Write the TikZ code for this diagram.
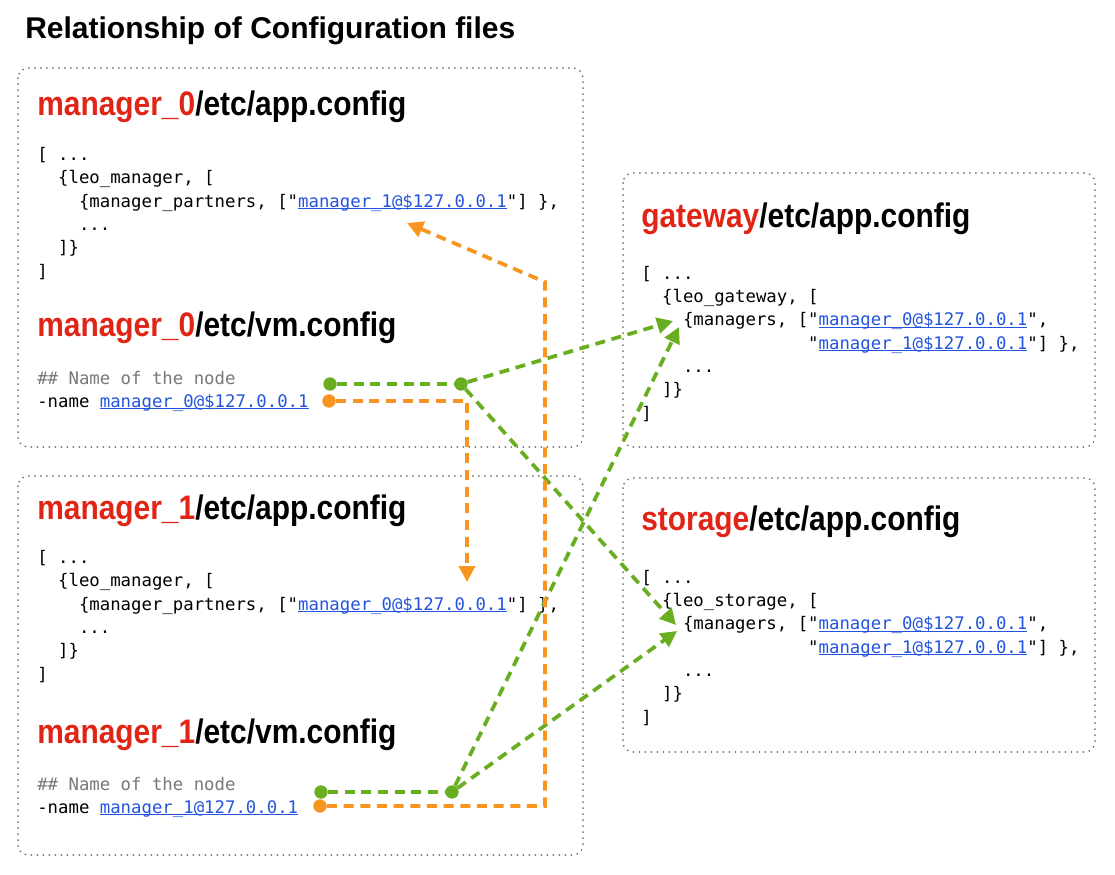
\documentclass[tikz,border=0pt]{standalone}
\usepackage{graphicx}
\usepackage{fontspec}
\setmainfont{Liberation Sans}
\setmonofont{DejaVu Sans Mono}
\usepackage{tikz}
\usetikzlibrary{arrows.meta}
\usetikzlibrary{positioning}
\definecolor{hdred}{RGB}{224,36,22}
\definecolor{linkgreen}{RGB}{104,174,32}
\definecolor{linkorange}{RGB}{248,148,32}
\definecolor{urlblue}{RGB}{36,84,222}
\definecolor{boxgrey}{RGB}{115,115,115}
\definecolor{cmtgrey}{RGB}{120,120,120}
\newcommand{\hdr}[2]{\scalebox{0.88}[1]{\textcolor{hdred}{#1}/etc/#2}}
\newcommand{\lnk}[1]{\textcolor{urlblue}{\setbox0\hbox{#1}\rlap{\rule[-1.6pt]{\wd0}{0.7pt}}\box0}}
\newcommand{\codesize}{\ttfamily\fontsize{13pt}{17.5pt}\selectfont}

\begin{document}
\begin{tikzpicture}[x=0.75pt, y=-0.75pt,
    title/.style={font=\bfseries\fontsize{22.5pt}{26pt}\selectfont, anchor=base west, inner sep=0pt},
    header/.style={font=\bfseries\fontsize{25.5pt}{30pt}\selectfont, anchor=base west, inner sep=0pt},
    code/.style={font=\codesize, align=left, anchor=base west, inner sep=0pt},
    cfgbox/.style={draw=boxgrey, line width=1.5pt, line cap=round, dash pattern=on 0pt off 4.5pt, rounded corners=7.5pt},
    dot/.style={circle, inner sep=0pt, minimum size=10pt},
    glink/.style={linkgreen, line width=2.8pt, dash pattern=on 7.5pt off 5pt},
    olink/.style={linkorange, line width=2.8pt, dash pattern=on 7.5pt off 5pt},
    tip/.style={-{Triangle[length=12pt, width=12pt]}}]

    \useasboundingbox (0,0) rectangle (1115,875);

    \node[title] (title) at (25,38) {Relationship of Configuration files};

    % dotted frames
    \draw[cfgbox] (18,68) rectangle (583,447);
    \draw[cfgbox] (18,476) rectangle (583,855);
    \draw[cfgbox] (623,173) rectangle (1095,447);
    \draw[cfgbox] (623,478) rectangle (1095,752);

    % manager_0 (code blocks sit on their last line)
    \node[header] (m0app) at (37,115) {\hdr{manager\_0}{app.config}};
    \node[code] (m0appcode) at (37,277) {[ ...\\
        \phantom{xx}\{leo\_manager, [\\
        \phantom{xxxx}\{manager\_partners, ["\lnk{manager\_1@\$127.0.0.1}"] \},\\
        \phantom{xxxx}...\\
        \phantom{xx}]\}\\
        ]};
    \node[header] (m0vm) at (37,336) {\hdr{manager\_0}{vm.config}};
    \node[code, text=cmtgrey] (m0cmt) at (37,384) {\#\# Name of the node};
    \node[code] (m0name) at (37,407) {-name \lnk{manager\_0@\$127.0.0.1}};

    % manager_1
    \node[header] (m1app) at (37,519) {\hdr{manager\_1}{app.config}};
    \node[code] (m1appcode) at (37,680) {[ ...\\
        \phantom{xx}\{leo\_manager, [\\
        \phantom{xxxx}\{manager\_partners, ["\lnk{manager\_0@\$127.0.0.1}"] \},\\
        \phantom{xxxx}...\\
        \phantom{xx}]\}\\
        ]};
    \node[header] (m1vm) at (37,743) {\hdr{manager\_1}{vm.config}};
    \node[code, text=cmtgrey] (m1cmt) at (37,790) {\#\# Name of the node};
    \node[code] (m1name) at (37,813) {-name \lnk{manager\_1@127.0.0.1}};

    % gateway
    \node[header] (gwapp) at (641,227) {\hdr{gateway}{app.config}};
    \node[code] (gwcode) at (641,419) {[ ...\\
        \phantom{xx}\{leo\_gateway, [\\
        \phantom{xxxx}\{managers, ["\lnk{manager\_0@\$127.0.0.1}",\\
        \phantom{xxxxxxxxxxxxxxxx}"\lnk{manager\_1@\$127.0.0.1}"] \},\\
        \phantom{xxxx}...\\
        \phantom{xx}]\}\\
        ]};

    % storage
    \node[header] (stapp) at (641,530) {\hdr{storage}{app.config}};
    \node[code] (stcode) at (641,723) {[ ...\\
        \phantom{xx}\{leo\_storage, [\\
        \phantom{xxxx}\{managers, ["\lnk{manager\_0@\$127.0.0.1}",\\
        \phantom{xxxxxxxxxxxxxxxx}"\lnk{manager\_1@\$127.0.0.1}"] \},\\
        \phantom{xxxx}...\\
        \phantom{xx}]\}\\
        ]};

    % link ends
    \node[dot, fill=linkgreen] (m0g) at (330,384) {};
    \node[dot, fill=linkgreen] (m0j) at (461,384) {};
    \node[dot, fill=linkorange] (m0o) at (329,401) {};
    \node[dot, fill=linkgreen] (m1g) at (321,792) {};
    \node[dot, fill=linkgreen] (m1j) at (452,792) {};
    \node[dot, fill=linkorange] (m1o) at (320,806) {};

    \coordinate (gwin0) at (673,321);
    \coordinate (gwin1) at (679,327);
    \coordinate (stin0) at (676,625);
    \coordinate (stin1) at (677,631);
    \coordinate (m1tip) at (467,582);
    \coordinate (m0tip) at (407,223);
    \coordinate (obend) at (545,282);

    \draw[glink] (m0g) -- (m0j);
    \draw[glink, tip] (m0j) -- (gwin0);
    \draw[glink, tip] (m0j) -- (stin0);
    \draw[olink, tip] (m0o) -| (m1tip);

    \draw[glink] (m1g) -- (m1j);
    \draw[glink, tip] (m1j) -- (gwin1);
    \draw[glink, tip] (m1j) -- (stin1);
    \draw[olink, tip] (m1o) -| (obend) -- (m0tip);

\end{tikzpicture}
\end{document}
